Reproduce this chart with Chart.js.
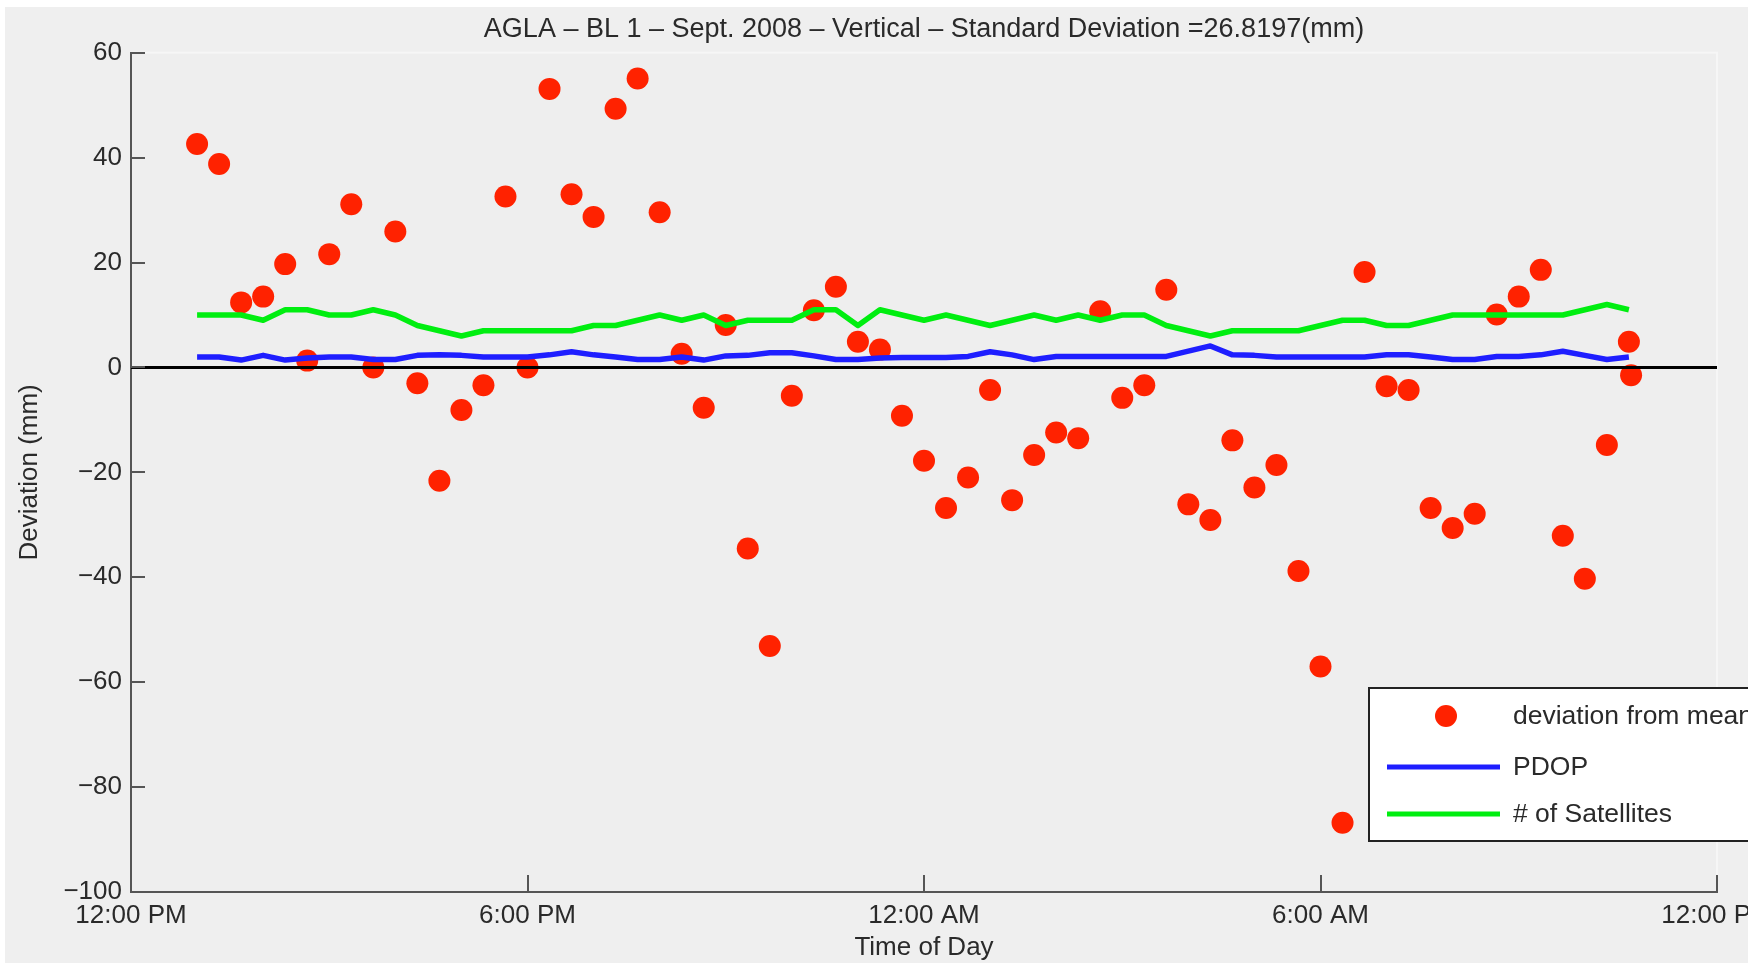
<!DOCTYPE html>
<html>
<head>
<meta charset="utf-8">
<script src="https://cdn.jsdelivr.net/npm/chart.js@4.4.1/dist/chart.umd.min.js"></script>
<style>
  html, body { margin: 0; padding: 0; background: #ffffff; }
  #wrap { position: absolute; left: 5px; top: 7px; width: 1743px; height: 956px; }
  canvas { display: block; }
</style>
</head>
<body>
<div id="wrap"><canvas id="c" width="1743" height="956"></canvas></div>
<script>
// ---- data ----
const titleText = 'AGLA \u2013 BL 1 \u2013 Sept. 2008 \u2013 Vertical \u2013 Standard Deviation =26.8197(mm)';
const xTickLabels = ['12:00 PM', '6:00 PM', '12:00 AM', '6:00 AM', '12:00 PM'];
const yTickValues = [-100, -80, -60, -40, -20, 0, 20, 40, 60];
const seriesNames = ['deviation from mean', 'PDOP', '# of Satellites'];

// observation times (clock), starting 1:00 PM, running past midnight
const times = [
  '13:00','13:20','13:40','14:00','14:20','14:40','15:00','15:20','15:40','16:00',
  '16:20','16:40','17:00','17:20','17:40','18:00','18:20','18:40','19:00','19:20',
  '19:40','20:00','20:20','20:40','21:00','21:20','21:40','22:00','22:20','22:40',
  '23:00','23:20','23:40','00:00','00:20','00:40','01:00','01:20','01:40','02:00',
  '02:20','02:40','03:00','03:20','03:40','04:00','04:20','04:40','05:00','05:20',
  '05:40','06:00','06:20','06:40','07:00','07:20','07:40','08:00','08:20','08:40',
  '09:00','09:20','09:40','10:00','10:20','10:40','10:42'
];

// deviation from mean (mm)
const deviation = [
  42.6, 38.8, 12.4, 13.5, 19.7, 1.3, 21.6, 31.1, 0.0, 25.9,
  -3.0, -21.6, -8.1, -3.4, 32.6, 0.0, 53.1, 33.0, 28.7, 49.3,
  55.1, 29.6, 2.6, -7.7, 8.1, -34.5, -53.1, -5.4, 10.9, 15.4,
  4.9, 3.4, -9.2, -17.8, -26.8, -21.0, -4.3, -25.3, -16.7, -12.4,
  -13.5, 10.7, -5.8, -3.4, 14.8, -26.1, -29.1, -13.9, -22.9, -18.6,
  -38.8, -57.0, -86.8, 18.2, -3.6, -4.3, -26.8, -30.6, -27.9, 10.1,
  13.5, 18.6, -32.1, -40.3, -14.8, 4.9, -1.5
];

// PDOP
const pdop = [
  2.0, 2.0, 1.4, 2.3, 1.4, 1.8, 2.0, 2.0, 1.5, 1.5,
  2.3, 2.4, 2.3, 2.0, 2.0, 2.0, 2.4, 3.0, 2.4, 2.0,
  1.5, 1.5, 2.0, 1.4, 2.2, 2.3, 2.8, 2.8, 2.2, 1.5,
  1.5, 1.8, 1.9, 1.9, 1.9, 2.1, 3.0, 2.4, 1.5, 2.1,
  2.1, 2.1, 2.1, 2.1, 2.1, 3.1, 4.1, 2.4, 2.3, 2.0,
  2.0, 2.0, 2.0, 2.0, 2.4, 2.4, 2.0, 1.5, 1.5, 2.1,
  2.1, 2.4, 3.1, 2.3, 1.5, 2.0
];

// number of satellites
const satellites = [
  10, 10, 10, 9, 11, 11, 10, 10, 11, 10,
  8, 7, 6, 7, 7, 7, 7, 7, 8, 8,
  9, 10, 9, 10, 8, 9, 9, 9, 11, 11,
  8, 11, 10, 9, 10, 9, 8, 9, 10, 9,
  10, 9, 10, 10, 8, 7, 6, 7, 7, 7,
  7, 8, 9, 9, 8, 8, 9, 10, 10, 10,
  10, 10, 10, 11, 12, 11
];

// zero reference line (hours after 12:00 PM, value)
const zeroLineX = [0, 24];
const zeroLineY = [0, 0];

// ---- helpers ----
function hoursAfterNoon(s) {
  const [h, m] = s.split(':').map(Number);
  let t = h + m / 60 - 12;
  if (t < 0) t += 24;
  return t;
}
function toPoints(vals) {
  return vals.map((v, i) => ({ x: hoursAfterNoon(times[i]), y: v }));
}

const FONT = "'Liberation Sans', Arial, Helvetica, sans-serif";
const TEXT = '#2a2a2a';
const RED = '#ff2200';
const BLUE = '#1e1eff';
const GREEN = '#00ee10';
const AXIS = '#555555';
Chart.defaults.font.family = FONT;
Chart.defaults.color = TEXT;

const bgPlugin = {
  id: 'figbg',
  beforeDraw(chart) {
    const { ctx, width, height, chartArea: a } = chart;
    ctx.save();
    ctx.fillStyle = '#efefef';
    ctx.fillRect(0, 0, width, height);
    ctx.fillStyle = '#eeeeee';
    ctx.fillRect(a.left, a.top, a.right - a.left, a.bottom - a.top);
    ctx.strokeStyle = '#f6f6f6';
    ctx.lineWidth = 2;
    ctx.strokeRect(a.left, a.top, a.right - a.left, a.bottom - a.top);
    ctx.restore();
  }
};

const tickPlugin = {
  id: 'inwardTicks',
  afterDatasetsDraw(chart) {
    const { ctx, scales: { x, y } } = chart;
    ctx.save();
    ctx.strokeStyle = AXIS;
    ctx.lineWidth = 2;
    ctx.beginPath();
    x.ticks.forEach(t => {
      const px = Math.round(x.getPixelForValue(t.value));
      ctx.moveTo(px, y.bottom);
      ctx.lineTo(px, y.bottom - 17);
    });
    y.ticks.forEach(t => {
      const py = Math.round(y.getPixelForValue(t.value));
      ctx.moveTo(x.left, py);
      ctx.lineTo(x.left + 14, py);
    });
    ctx.stroke();
    ctx.restore();
  }
};

const legendPlugin = {
  id: 'boxLegend',
  afterDraw(chart) {
    const { ctx } = chart;
    const L = 1364, T = 681, B = 834, R = 1800;
    ctx.save();
    ctx.fillStyle = '#ffffff';
    ctx.fillRect(L, T, R - L, B - T);
    ctx.strokeStyle = '#222222';
    ctx.lineWidth = 2;
    ctx.strokeRect(L, T, R - L, B - T);
    const rows = [709, 760, 807];
    const ds = chart.data.datasets;
    // marker
    ctx.fillStyle = ds[0].backgroundColor;
    ctx.beginPath();
    ctx.arc(1441, rows[0], 11, 0, Math.PI * 2);
    ctx.fill();
    // lines
    [1, 2].forEach(i => {
      ctx.strokeStyle = ds[i].borderColor;
      ctx.lineWidth = 5;
      ctx.beginPath();
      ctx.moveTo(1382, rows[i]);
      ctx.lineTo(1495, rows[i]);
      ctx.stroke();
    });
    ctx.fillStyle = TEXT;
    ctx.font = '26.5px ' + FONT;
    ctx.textBaseline = 'middle';
    ctx.textAlign = 'left';
    seriesNames.forEach((n, i) => ctx.fillText(n, 1508, rows[i] + 1));
    ctx.restore();
  }
};

new Chart(document.getElementById('c'), {
  type: 'scatter',
  data: {
    datasets: [
      {
        label: seriesNames[0],
        data: toPoints(deviation),
        showLine: false,
        pointRadius: 11,
        pointHoverRadius: 11,
        pointBorderWidth: 0,
        backgroundColor: RED,
        borderColor: RED,
        order: 4
      },
      {
        label: seriesNames[1],
        type: 'line',
        data: toPoints(pdop),
        borderColor: BLUE,
        backgroundColor: BLUE,
        borderWidth: 5.5,
        pointRadius: 0,
        tension: 0,
        borderJoinStyle: 'round',
        order: 3
      },
      {
        label: seriesNames[2],
        type: 'line',
        data: toPoints(satellites),
        borderColor: GREEN,
        backgroundColor: GREEN,
        borderWidth: 5.5,
        pointRadius: 0,
        tension: 0,
        borderJoinStyle: 'round',
        order: 2
      },
      {
        label: 'zero',
        type: 'line',
        data: zeroLineX.map((x, i) => ({ x, y: zeroLineY[i] })),
        borderColor: '#000000',
        borderWidth: 3,
        pointRadius: 0,
        order: 1
      }
    ]
  },
  options: {
    responsive: false,
    animation: false,
    events: [],
    layout: { padding: { left: 0, right: 31, top: 0, bottom: 0 } },
    plugins: {
      legend: { display: false },
      tooltip: { enabled: false },
      title: {
        display: true,
        text: titleText,
        fullSize: false,
        color: TEXT,
        font: { size: 27, weight: 'normal', family: FONT },
        padding: { top: 6, bottom: 7.3 }
      }
    },
    scales: {
      x: {
        type: 'linear',
        min: 0,
        max: 24,
        afterBuildTicks: s => { s.ticks = xTickLabels.map((_, i) => ({ value: i * 6 })); },
        ticks: {
          autoSkip: false,
          maxRotation: 0,
          padding: 8,
          color: TEXT,
          font: { size: 26 },
          callback: (v, i) => xTickLabels[i]
        },
        grid: { display: true, drawOnChartArea: false, drawTicks: false },
        border: { display: true, color: AXIS, width: 2 },
        title: {
          display: true,
          text: 'Time of Day',
          color: TEXT,
          font: { size: 26 },
          padding: { top: 0, bottom: 0 }
        },
        afterFit: s => { s.height = 71; s.paddingLeft = 0; s.paddingRight = 0; }
      },
      y: {
        type: 'linear',
        min: -100,
        max: 60,
        afterBuildTicks: s => { s.ticks = yTickValues.map(v => ({ value: v })); },
        ticks: {
          padding: 9,
          color: TEXT,
          font: { size: 26 },
          callback: v => (v < 0 ? '\u2212' + Math.abs(v) : String(v))
        },
        grid: { display: true, drawOnChartArea: false, drawTicks: false },
        border: { display: true, color: AXIS, width: 2 },
        title: {
          display: true,
          text: 'Deviation (mm)',
          color: TEXT,
          font: { size: 26 },
          padding: { top: 9.5, bottom: 0 }
        },
        afterFit: s => { s.width = 126; s.paddingTop = 0; s.paddingBottom = 0; }
      }
    }
  },
  plugins: [bgPlugin, tickPlugin, legendPlugin]
});
</script>
</body>
</html>
